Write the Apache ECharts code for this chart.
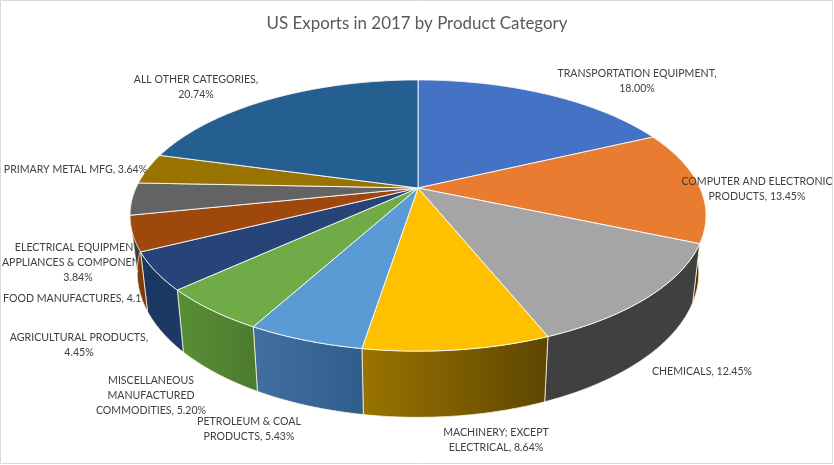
<!DOCTYPE html>
<html><head><meta charset="utf-8">
<style>html,body{margin:0;padding:0;background:#fff}#c{width:834px;height:465px}</style>
<script src="https://cdn.jsdelivr.net/npm/echarts@6/dist/echarts.min.js"></script>
</head><body><div id="c"></div>
<script>
// Data
var titleText = 'US Exports in 2017 by Product Category';
var categories = ['TRANSPORTATION EQUIPMENT','COMPUTER AND ELECTRONIC PRODUCTS','CHEMICALS','MACHINERY; EXCEPT ELECTRICAL','PETROLEUM & COAL PRODUCTS','MISCELLANEOUS MANUFACTURED COMMODITIES','AGRICULTURAL PRODUCTS','FOOD MANUFACTURES','ELECTRICAL EQUIPMENT, APPLIANCES & COMPONENTS','PRIMARY METAL MFG','ALL OTHER CATEGORIES'];
var shares = [18.00,13.45,12.45,8.64,5.43,5.20,4.45,4.16,3.84,3.64,20.74];
var labelLines = [
  ['TRANSPORTATION EQUIPMENT,','18.00%'],
  ['COMPUTER AND ELECTRONIC','PRODUCTS, 13.45%'],
  ['CHEMICALS, 12.45%'],
  ['MACHINERY; EXCEPT','ELECTRICAL, 8.64%'],
  ['PETROLEUM & COAL','PRODUCTS, 5.43%'],
  ['MISCELLANEOUS','MANUFACTURED','COMMODITIES, 5.20%'],
  ['AGRICULTURAL PRODUCTS,','4.45%'],
  ['FOOD MANUFACTURES, 4.16%'],
  ['ELECTRICAL EQUIPMENT,','APPLIANCES & COMPONENTS,','3.84%'],
  ['PRIMARY METAL MFG, 3.64%'],
  ['ALL OTHER CATEGORIES,','20.74%']
];
// Styles and layout
var topColors = ['#4472C4','#E97C30','#A5A5A5','#FFC000','#5B9BD5','#6FAB46','#264478','#9E480E','#636363','#997300','#255E91'];
var sideLeft  = ['#2b4a80','#6a3410','#404040','#9a7400','#41709f','#588f36','#1a3560','#8a3f0c','#3c3c3c','#5c4500','#163a5a'];
var sideRight = ['#2b4a80','#5a2a0a','#404040','#5e4600','#2f5e8c','#4c7a2e','#1d3a66','#7a370a','#3c3c3c','#5c4500','#163a5a'];
var labelX = [637,757,702,496,249,151,79,3,78,75.5,196];
var labelY = [74,182,372,433,422,381,338,299,248,170,80];
var labelAlign = ['center','center','center','center','center','center','center','left','center','center','center'];
var behindPie = [7,8];
var lineH = 15, labelFont = 10.6;
var fontFam = 'Lato, "Open Sans", sans-serif';

// Perspective projection of the pie disc
var CX = 418, CY = 188, A = 130, B = 282, P = 0.203;
var scaleX = 0.975, scaleY = 1.067, baseY = 243.3;
var total = shares.reduce(function(a,b){return a+b;},0);
function project(pct){
  var t = pct/total*2*Math.PI, u = Math.sin(t), v = Math.cos(t), w = 1+P*v;
  return [B*u/w, -A*v/w];
}
function topPt(pct){var p=project(pct);return [CX+p[0],CY+p[1]];}
function botPt(pct){var p=project(pct);return [CX+scaleX*p[0],baseY+scaleY*p[1]];}
function startOf(i){var s=0;for(var k=0;k<i;k++)s+=shares[k];return s;}
function arc(fn,a,b){var pts=[],n=48;for(var k=0;k<=n;k++)pts.push(fn(a+(b-a)*k/n));return pts;}

function renderSide(params,api){
  var i=params.dataIndex, a=startOf(i), b=a+api.value(0);
  var pts=arc(topPt,a,b).concat(arc(botPt,b,a));
  return {type:'polygon',shape:{points:pts},style:{
    fill:{type:'linear',x:0,y:0,x2:1,y2:0,colorStops:[{offset:0,color:sideLeft[i]},{offset:1,color:sideRight[i]}]},
    stroke:'rgba(255,250,225,0.75)',lineWidth:1}};
}
function renderTop(params,api){
  var i=params.dataIndex, a=startOf(i), b=a+api.value(0);
  var pts=[[CX,CY]].concat(arc(topPt,a,b));
  return {type:'polygon',shape:{points:pts},style:{fill:topColors[i],stroke:'rgba(255,255,255,0.85)',lineWidth:1}};
}
function renderLabel(params,api){
  var i=api.value(1);
  return {type:'group',children:labelLines[i].map(function(line,k){
    return {type:'text',style:{text:line,x:labelX[i],y:labelY[i]+k*lineH,align:labelAlign[i],verticalAlign:'middle',
      fill:'#404040',font:labelFont+'px '+fontFam}};
  })};
}
var sliceData = shares.map(function(v,i){return [v,i];});
var backData = sliceData.filter(function(d){return behindPie.indexOf(d[1])>=0;});
var frontData = sliceData.filter(function(d){return behindPie.indexOf(d[1])<0;});
var chart = echarts.init(document.getElementById('c'),null,{renderer:'canvas'});
chart.setOption({
  animation:false,
  backgroundColor:'#fff',
  title:{text:titleText,left:412,top:10,textAlign:'center',
    textStyle:{color:'#595959',fontSize:16.9,fontWeight:'normal',fontFamily:fontFam}},
  graphic:[{type:'rect',shape:{x:0.5,y:0.5,width:832,height:463},style:{fill:'none',stroke:'#d9d9d9',lineWidth:1},silent:true}],
  series:[
    {type:'custom',name:'labels behind',coordinateSystem:'none',silent:true,z:1,data:backData,renderItem:renderLabel},
    {type:'custom',name:'side',coordinateSystem:'none',silent:true,z:2,data:sliceData,renderItem:renderSide},
    {type:'custom',name:'top',coordinateSystem:'none',silent:true,z:3,data:sliceData,renderItem:renderTop},
    {type:'custom',name:'labels',coordinateSystem:'none',silent:true,z:4,data:frontData,renderItem:renderLabel}
  ]
});
</script></body></html>
